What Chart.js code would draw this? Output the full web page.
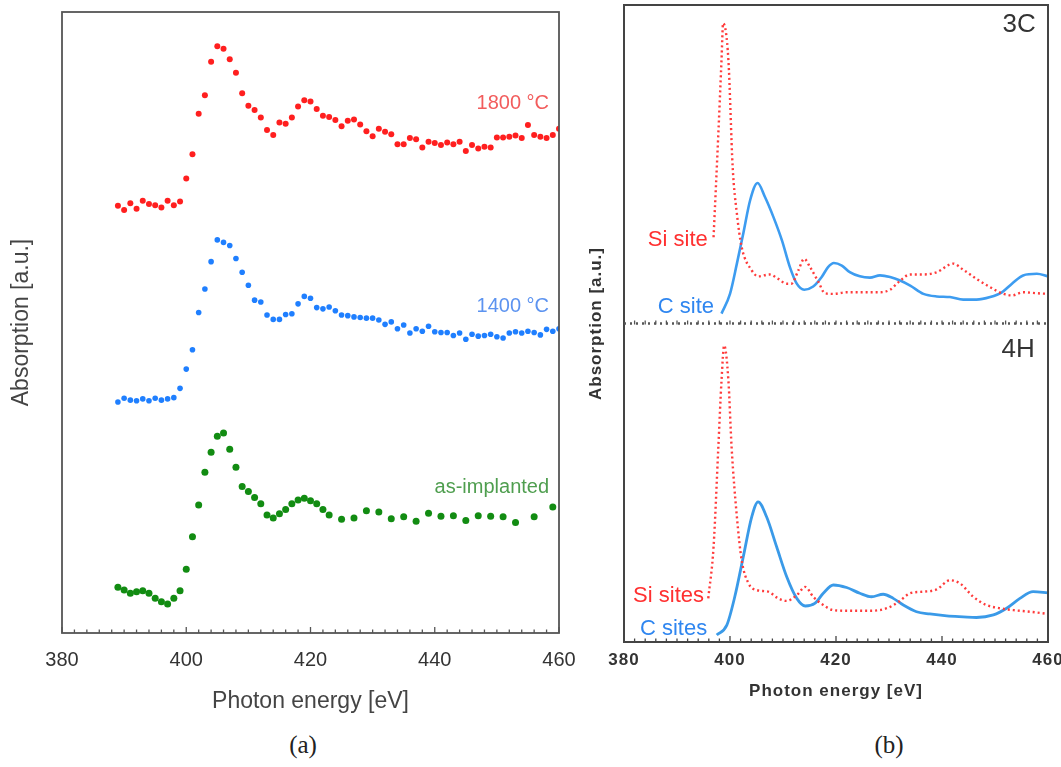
<!DOCTYPE html>
<html>
<head>
<meta charset="utf-8">
<title>N K-edge absorption spectra</title>
<script src="https://cdn.jsdelivr.net/npm/chart.js@4.4.1/dist/chart.umd.min.js"></script>
<style>
  html, body { margin: 0; padding: 0; background: #fff; }
  body { width: 1061px; height: 767px; position: relative; overflow: hidden; }
  #chartA { position: absolute; left: 0; top: 0; }
  #chartB { position: absolute; left: 580px; top: 0; }
  .panel-tag {
    position: absolute; top: 730px; line-height: 30px;
    font-family: "Liberation Serif", "DejaVu Serif", serif; font-size: 25px; color: #222;
    transform: translateX(-50%);
  }
</style>
</head>
<body>
<canvas id="chartA" width="580" height="720"></canvas>
<canvas id="chartB" width="481" height="720"></canvas>
<div class="panel-tag" style="left:303px">(a)</div>
<div class="panel-tag" style="left:889px">(b)</div>

<script>
// ---------- panel (a): measured spectra (a.u., offset as plotted) ----------
const energyA = [389, 390, 391, 392, 393, 394, 395, 396, 397, 398, 399, 400, 401, 402, 403, 404, 405, 406,
    407, 408, 409, 410, 411, 412, 413, 414, 415, 416, 417, 418, 419, 420, 421, 422, 423, 424, 425, 426,
    427, 428, 429, 430, 431, 432, 433, 434, 435, 436, 437, 438, 439, 440, 441, 442, 443, 444, 445, 446,
    447, 448, 449, 450, 451, 452, 453, 454, 455, 456, 457, 458, 459, 460];

const abs1800 = [68.8, 68.1, 69.2, 68.3, 69.6, 69.1, 68.9, 68.5, 69.6, 68.9,
    69.5, 73.2, 77.1, 83.6, 86.6, 92.0, 94.5, 94.1, 92.4, 90.2,
    86.9, 84.9, 84.2, 83.0, 81.0, 80.2, 82.2, 82.0, 83.0, 84.8,
    85.8, 85.6, 84.4, 83.3, 83.1, 82.6, 81.6, 82.5, 82.7, 81.9,
    80.8, 80.0, 81.2, 80.7, 80.3, 78.7, 78.7, 79.7, 79.5, 78.2,
    79.1, 78.9, 78.6, 79.0, 78.7, 79.1, 77.6, 78.6, 78.0, 78.3,
    78.2, 79.8, 79.8, 79.9, 80.1, 79.7, 81.8, 80.2, 79.9, 79.7,
    80.2, 81.2];

const abs1400 = [37.2, 37.8, 37.5, 37.4, 37.7, 37.4, 37.8, 37.5, 37.7, 37.9,
    39.4, 42.5, 45.6, 51.6, 55.4, 59.8, 63.3, 62.9, 62.4, 60.3,
    58.1, 56.0, 53.6, 53.3, 51.2, 50.5, 50.5, 51.3, 51.4, 53.0,
    54.2, 53.9, 52.4, 52.2, 52.5, 51.9, 51.2, 51.1, 50.9, 50.8,
    50.7, 50.7, 50.4, 49.7, 50.1, 49.0, 49.6, 48.3, 49.0, 48.6,
    49.4, 48.5, 48.4, 48.4, 47.9, 48.3, 47.3, 48.1, 47.8, 47.9,
    48.1, 47.7, 47.5, 48.3, 48.5, 48.3, 48.6, 48.4, 48.0, 48.9,
    48.6, 49.0];

// as-implanted was taken with a coarser step above 423 eV
const energyImpl = [389, 390, 391, 392, 393, 394, 395, 396, 397, 398, 399, 400, 401, 402, 403, 404, 405,
    406, 407, 408, 409, 410, 411, 412, 413, 414, 415, 416, 417, 418, 419, 420, 421, 422, 423,
    425, 427, 429, 431, 433, 435, 437, 439, 441, 443, 445, 447, 449, 451, 453, 456, 459];

const absImpl = [7.36, 6.92, 6.39, 6.66, 6.82, 6.39, 5.58, 5.05, 4.67, 5.58,
    6.82, 10.25, 15.5, 20.6, 25.9, 29.1, 31.7, 32.2, 29.6, 26.7,
    23.6, 22.8, 21.8, 20.8, 19.0, 18.5, 19.2, 19.9, 20.8, 21.4,
    21.7, 21.3, 20.8, 19.9, 19.0,
    18.3, 18.5, 19.7, 19.5, 18.4, 18.7, 18.0, 19.3, 18.8, 18.9,
    18.1, 18.9, 18.8, 18.7, 17.8, 18.7, 20.3];

// ---------- panel (b): calculated spectra, 3C (upper) and 4H (lower) ----------
const si3cE = [396.9, 397.8, 398.4, 398.7, 399.7, 400.5, 401.3, 402.2, 404.1, 405.3,
    407.5, 409.1, 410.7, 411.6, 412.9, 414.0, 415.1, 416.7, 417.9, 419.5,
    422.0, 425.2, 428.3, 430.2, 431.8, 434.0, 436.5, 439.0, 442.1, 444.0,
    446.5, 449.1, 451.3, 453.2, 455.3, 457.9, 460];
const si3cA = [0.271, 0.596, 0.827, 0.943, 0.827, 0.492, 0.345, 0.240, 0.167, 0.148,
    0.154, 0.140, 0.125, 0.125, 0.167, 0.203, 0.177, 0.130, 0.095, 0.093,
    0.098, 0.098, 0.098, 0.106, 0.130, 0.154, 0.154, 0.161, 0.188, 0.169,
    0.140, 0.114, 0.095, 0.088, 0.098, 0.095, 0.093];

const c3cE = [398.4, 400.0, 401.3, 402.5, 403.8, 405.2, 406.6, 408.2, 409.8, 411.3,
    412.6, 414.0, 415.7, 417.3, 418.5, 419.6, 421.1, 422.6, 424.5, 426.4,
    428.3, 430.2, 432.1, 434.0, 436.5, 439.0, 441.5, 444.0, 446.5, 449.1,
    451.3, 453.2, 455.3, 457.9, 460];
const c3cA = [0.031, 0.093, 0.188, 0.282, 0.387, 0.441, 0.397, 0.334, 0.261, 0.177,
    0.125, 0.106, 0.116, 0.146, 0.177, 0.190, 0.182, 0.161, 0.148, 0.144,
    0.151, 0.146, 0.135, 0.119, 0.093, 0.085, 0.083, 0.075, 0.075, 0.083,
    0.098, 0.125, 0.151, 0.156, 0.148];

const si4hE = [395.9, 396.9, 397.8, 398.4, 398.9, 399.7, 400.3, 401.3, 402.2, 403.5,
    405.0, 407.2, 409.1, 410.7, 412.6, 414.2, 415.7, 417.6, 419.5, 422.6,
    426.4, 429.6, 431.8, 434.0, 436.5, 439.0, 441.5, 443.4, 445.9, 448.4,
    450.9, 453.5, 456.6, 460];
const si4hA = [0.137, 0.299, 0.612, 0.821, 0.931, 0.821, 0.612, 0.393, 0.257, 0.184,
    0.163, 0.158, 0.137, 0.129, 0.147, 0.173, 0.142, 0.116, 0.100, 0.098,
    0.098, 0.106, 0.126, 0.153, 0.158, 0.165, 0.194, 0.184, 0.142, 0.116,
    0.106, 0.100, 0.095, 0.088];

const c4hE = [397.5, 399.4, 400.9, 402.5, 404.1, 405.3, 406.9, 408.8, 410.7, 412.6,
    414.2, 416.0, 417.6, 419.5, 422.0, 424.5, 426.7, 428.9, 430.8, 432.7,
    435.2, 437.7, 440.9, 444.0, 446.5, 449.7, 452.2, 454.7, 457.2, 460];
const c4hA = [0.022, 0.053, 0.142, 0.267, 0.393, 0.440, 0.393, 0.299, 0.205, 0.137,
    0.113, 0.121, 0.153, 0.179, 0.171, 0.153, 0.142, 0.150, 0.137, 0.116,
    0.095, 0.088, 0.082, 0.079, 0.077, 0.085, 0.106, 0.137, 0.158, 0.154];

// shared energy axis labels
const energyTicks = [380, 400, 420, 440, 460];

const SANS = "'Liberation Sans', Arial, Helvetica, sans-serif";
Chart.defaults.font.family = SANS;

function toPoints(xs, ys) {
    return xs.map((x, i) => ({ x: x, y: ys[i] }));
}

// fixed-size bottom axis; don't let the end labels squeeze the plot area
function fixBottom(height) {
    return function (s) {
        s.height = height;
        s.paddingLeft = 0;
        s.paddingRight = 0;
    };
}

// box round the plot area + short inward ticks every 2 eV on the bottom edge
function frameTicks(color, width) {
    return {
        id: "frameTicks",
        afterDraw(chart) {
            let ctx = chart.ctx, area = chart.chartArea, xs = chart.scales.x;
            ctx.save();
            ctx.strokeStyle = color;
            ctx.lineWidth = 1.3;
            for (let v = xs.min; v <= xs.max; v += 2) {
                let px = xs.getPixelForValue(v);
                let len = (v % 20 === 0) ? 6 : 3.5;
                ctx.beginPath();
                ctx.moveTo(px, area.bottom);
                ctx.lineTo(px, area.bottom - len);
                ctx.stroke();
            }
            ctx.lineWidth = width;
            ctx.strokeRect(area.left, area.top, area.right - area.left, area.bottom - area.top);
            ctx.restore();
        }
    };
}

// text notes anchored in data coordinates
function notesPlugin(notes) {
    return {
        id: "notes",
        afterDatasetsDraw(chart) {
            let ctx = chart.ctx;
            ctx.save();
            notes.forEach(n => {
                let px = chart.scales.x.getPixelForValue(n.x);
                let py = chart.scales[n.axis].getPixelForValue(n.y);
                ctx.font = n.font;
                ctx.fillStyle = n.color;
                ctx.textAlign = "right";
                ctx.textBaseline = "middle";
                ctx.fillText(n.text, px, py);
            });
            ctx.restore();
        }
    };
}

// ---------- chart (a) ----------
new Chart(document.getElementById("chartA"), {
    type: "scatter",
    data: {
        datasets: [
            { label: "1800 °C", data: toPoints(energyA, abs1800), backgroundColor: "#ff1f1f", pointRadius: 3, borderWidth: 0 },
            { label: "1400 °C", data: toPoints(energyA, abs1400), backgroundColor: "#1f7fff", pointRadius: 2.8, borderWidth: 0 },
            { label: "as-implanted", data: toPoints(energyImpl, absImpl), backgroundColor: "#128c12", pointRadius: 3.5, borderWidth: 0 }
        ]
    },
    options: {
        responsive: false,
        devicePixelRatio: 1,
        animation: false,
        layout: { padding: { left: 0, top: 12, right: 21, bottom: 0 } },
        plugins: { legend: { display: false }, tooltip: { enabled: false } },
        scales: {
            x: {
                min: 380, max: 460,
                afterBuildTicks: s => { s.ticks = energyTicks.map(v => ({ value: v })); },
                afterFit: fixBottom(87),
                grid: { display: false, drawTicks: false },
                border: { display: false },
                ticks: { color: "#333", font: { size: 20 }, padding: 15, maxRotation: 0 },
                title: { display: true, text: "Photon energy [eV]", color: "#444", font: { size: 23 }, padding: { top: 0, bottom: 5 } }
            },
            y: {
                min: 0, max: 100,
                afterFit: s => { s.width = 62; },
                grid: { display: false, drawTicks: false },
                border: { display: false },
                ticks: { display: false },
                title: { display: true, text: "Absorption [a.u.]", color: "#444", font: { size: 23 }, padding: { top: 8, bottom: 0 } }
            }
        }
    },
    plugins: [
        frameTicks("#555", 1.8),
        notesPlugin([
            { text: "1800 °C", x: 458.4, y: 85.3, axis: "y", color: "#f25c5c", font: "20px " + SANS },
            { text: "1400 °C", x: 458.4, y: 52.5, axis: "y", color: "#5c93f0", font: "20px " + SANS },
            { text: "as-implanted", x: 458.4, y: 23.5, axis: "y", color: "#4f9e4f", font: "20px " + SANS }
        ])
    ]
});

// ---------- chart (b) ----------
// dotted divider between the 3C and 4H halves
const dividerPlugin = {
    id: "divider",
    afterDraw(chart) {
        let ctx = chart.ctx, area = chart.chartArea, xs = chart.scales.x;
        let y = chart.scales.y3C.getPixelForValue(0);
        ctx.save();
        ctx.strokeStyle = "#555";
        ctx.lineWidth = 2.5;
        ctx.setLineDash([2, 4]);
        ctx.beginPath();
        ctx.moveTo(area.left, y);
        ctx.lineTo(area.right, y);
        ctx.stroke();
        ctx.setLineDash([]);
        ctx.lineWidth = 1.3;
        for (let v = xs.min + 2; v < xs.max; v += 2) {
            let px = xs.getPixelForValue(v);
            ctx.beginPath();
            ctx.moveTo(px, y + 1);
            ctx.lineTo(px, y - 3);
            ctx.stroke();
        }
        ctx.restore();
    }
};

// the (b) axis texts are set a bit wider than normal
const spacedAxisText = {
    id: "spacedAxisText",
    beforeDraw(chart) { chart.ctx.letterSpacing = "1px"; },
    beforeDatasetsDraw(chart) { chart.ctx.letterSpacing = "0px"; }
};

const lineBase = { showLine: true, pointRadius: 0, fill: false, cubicInterpolationMode: "monotone" };

new Chart(document.getElementById("chartB"), {
    type: "scatter",
    data: {
        datasets: [
            Object.assign({ label: "3C Si site", data: toPoints(si3cE, si3cA), yAxisID: "y3C",
                borderColor: "#ff3b3b", borderWidth: 2.4, borderDash: [2, 3] }, lineBase),
            Object.assign({ label: "3C C site", data: toPoints(c3cE, c3cA), yAxisID: "y3C",
                borderColor: "#3d9cf0", borderWidth: 2.6 }, lineBase),
            Object.assign({ label: "4H Si sites", data: toPoints(si4hE, si4hA), yAxisID: "y4H",
                borderColor: "#ff3b3b", borderWidth: 2.4, borderDash: [2, 3] }, lineBase),
            Object.assign({ label: "4H C sites", data: toPoints(c4hE, c4hA), yAxisID: "y4H",
                borderColor: "#3a9ae8", borderWidth: 2.8 }, lineBase)
        ]
    },
    options: {
        responsive: false,
        devicePixelRatio: 1,
        animation: false,
        layout: { padding: { left: 0, top: 5, right: 13, bottom: 0 } },
        plugins: { legend: { display: false }, tooltip: { enabled: false } },
        scales: {
            x: {
                min: 380, max: 460,
                afterBuildTicks: s => { s.ticks = energyTicks.map(v => ({ value: v })); },
                afterFit: fixBottom(78),
                grid: { display: false, drawTicks: false },
                border: { display: false },
                ticks: { color: "#333", font: { size: 17, weight: "bold" }, padding: 8, maxRotation: 0 },
                title: { display: true, text: "Photon energy [eV]", color: "#333", font: { size: 17, weight: "bold" }, padding: { top: 0, bottom: 18 } }
            },
            // 4H occupies the lower half, 3C the upper half
            y4H: {
                position: "left",
                min: 0, max: 2,
                afterFit: s => { s.width = 44; },
                grid: { display: false, drawTicks: false },
                border: { display: false },
                ticks: { display: false },
                title: { display: true, text: "Absorption [a.u.]", color: "#333", font: { size: 17, weight: "bold" }, padding: { top: 6, bottom: 0 } }
            },
            y3C: {
                position: "left",
                display: false,
                min: -1, max: 1
            }
        }
    },
    plugins: [
        spacedAxisText,
        frameTicks("#444", 2),
        dividerPlugin,
        notesPlugin([
            { text: "3C", x: 457.7, y: 0.937, axis: "y3C", color: "#333", font: "26px " + SANS },
            { text: "Si site", x: 395.8, y: 0.261, axis: "y3C", color: "#ff3030", font: "22px " + SANS },
            { text: "C site", x: 397.0, y: 0.053, axis: "y3C", color: "#2f86f0", font: "22px " + SANS },
            { text: "4H", x: 457.5, y: 0.918, axis: "y4H", color: "#333", font: "26px " + SANS },
            { text: "Si sites", x: 395.1, y: 0.144, axis: "y4H", color: "#ff3030", font: "22px " + SANS },
            { text: "C sites", x: 395.7, y: 0.041, axis: "y4H", color: "#2f86f0", font: "22px " + SANS }
        ])
    ]
});
</script>
</body>
</html>
